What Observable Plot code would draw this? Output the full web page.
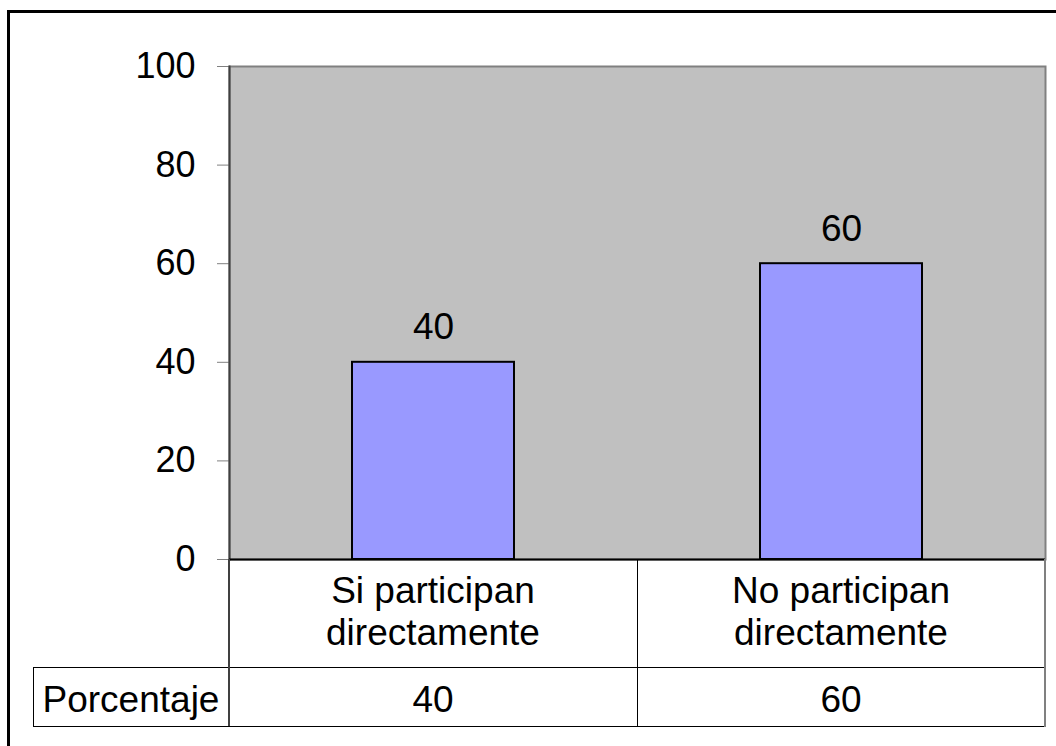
<!DOCTYPE html>
<html><head><meta charset="utf-8">
<script src="https://cdn.jsdelivr.net/npm/d3@7"></script>
<script src="https://cdn.jsdelivr.net/npm/@observablehq/plot@0.6"></script>
<style>
html,body{margin:0;padding:0;background:#fff;overflow:hidden;}
#wrap{position:relative;width:1056px;height:746px;overflow:hidden;font-family:"Liberation Sans",Arial,sans-serif;color:#000;}
#border{position:absolute;left:7px;top:10px;width:1100px;height:800px;border:3px solid #000;box-sizing:border-box;}
#chart{position:absolute;left:0;top:0;}
.cell{position:absolute;display:flex;align-items:center;justify-content:center;text-align:center;font-size:37px;line-height:42px;box-sizing:border-box;}
.ln{position:absolute;}
</style></head><body><div id="wrap"><div id="border"></div><div id="chart"></div></div>
<script>
const categories = ["Si participan directamente", "No participan directamente"];
const categoryLines = [["Si participan", "directamente"], ["No participan", "directamente"]];
const values = [40, 60];
const yTicks = [0, 20, 40, 60, 80, 100];
const rowLabel = "Porcentaje";
const data = categories.map((c, i) => ({category: c, value: values[i]}));

const chart = Plot.plot({
  width: 1056, height: 560,
  marginLeft: 229, marginRight: 11, marginTop: 66, marginBottom: 1,
  style: {fontFamily: "Liberation Sans, Arial, sans-serif", fontSize: "36px", color: "#000", background: "transparent", overflow: "visible"},
  x: {domain: categories, paddingInner: 0.603, paddingOuter: 0.3015, axis: null},
  y: {domain: [0, 100], ticks: yTicks},
  marks: [
    Plot.frame({fill: "#c0c0c0", stroke: "#808080", strokeWidth: 2}),
    Plot.axisY({ticks: yTicks, tickSize: 12, tickPadding: 22, stroke: "#808080", fill: "#000", label: null, fontSize: 36}),
    Plot.frame({anchor: "left", stroke: "#404040", strokeWidth: 2}),
    Plot.barY(data, {x: "category", y: "value", fill: "#9999ff", stroke: "#000", strokeWidth: 2}),
    Plot.ruleY([0], {stroke: "#000", strokeWidth: 2}),
    Plot.text(data, {x: "category", y: "value", text: d => String(d.value), dy: -35, lineAnchor: "middle", fontSize: 37, fill: "#000"})
  ]
});
document.getElementById("chart").appendChild(chart);

// data table below the chart, aligned with the chart's own scales
const wrap = document.getElementById("wrap");
const xs = chart.scale("x"), ys = chart.scale("y");
const step = xs.step, bw = xs.bandwidth;
const baseY = ys.apply(0);
const row1H = 108, row2H = 59;
const labelLeft = 33;
const colLeft = categories.map(c => xs.apply(c) + bw / 2 - step / 2);
const plotLeft = colLeft[0], plotRight = colLeft[colLeft.length - 1] + step;

function cell(x, y, w, h, html, extra) {
  const d = document.createElement("div");
  d.className = "cell";
  Object.assign(d.style, {left: x + "px", top: y + "px", width: w + "px", height: h + "px"}, extra || {});
  d.innerHTML = html;
  wrap.appendChild(d);
}
function line(x, y, w, h, color) {
  const d = document.createElement("div");
  d.className = "ln";
  Object.assign(d.style, {left: x + "px", top: y + "px", width: w + "px", height: h + "px", background: color});
  wrap.appendChild(d);
}
const r2Top = baseY + row1H, r2Bot = r2Top + row2H;
categories.forEach((c, i) => {
  cell(colLeft[i], baseY, step, row1H, categoryLines[i].join("<br>"), {paddingBottom: "2px"});
  cell(colLeft[i], r2Top, step, row2H, String(values[i]), {paddingTop: "6px"});
});
cell(labelLeft, r2Top, plotLeft - labelLeft, row2H, rowLabel, {paddingTop: "6px"});
// lines
line(labelLeft, r2Top, plotRight - labelLeft, 1, "#000");
line(labelLeft, r2Bot, plotRight - labelLeft, 1, "#000");
line(labelLeft, r2Top, 1, row2H, "#000");
line(plotLeft - 1, baseY, 2, row1H + row2H, "#404040");
colLeft.slice(1).forEach(x => line(x, baseY, 1, row1H + row2H, "#000"));
line(plotRight - 1, baseY, 2, row1H + row2H + 1, "#808080");
</script>
</body></html>
